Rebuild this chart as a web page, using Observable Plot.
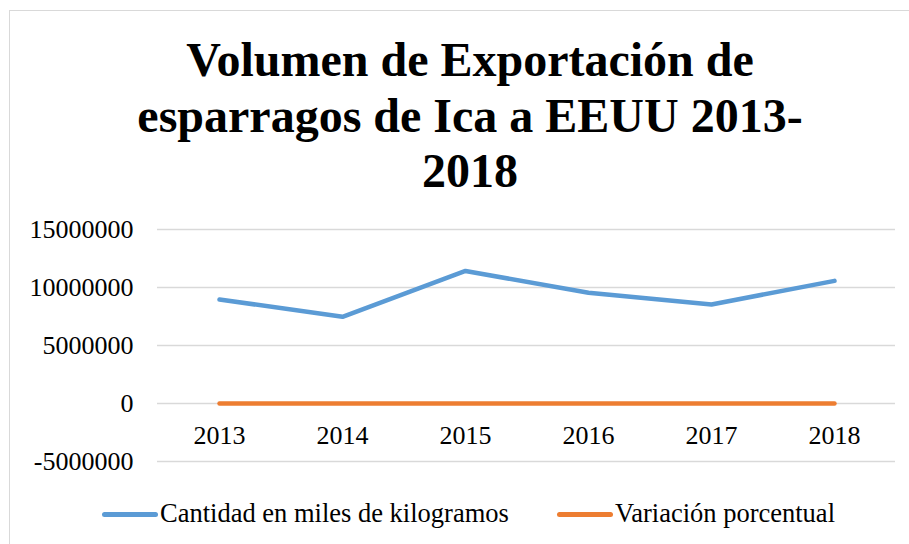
<!DOCTYPE html>
<html>
<head>
<meta charset="utf-8">
<script src="https://cdn.jsdelivr.net/npm/d3@7"></script>
<script src="https://cdn.jsdelivr.net/npm/@observablehq/plot@0.6"></script>
<style>
  html, body { margin: 0; padding: 0; background: #fff; }
  body { width: 909px; height: 544px; position: relative; overflow: hidden; font-family: "Liberation Serif", "Times New Roman", serif; }
  #frame { position: absolute; left: 9px; top: 10px; width: 1000px; height: 700px; border: 1px solid #d9d9d9; box-sizing: border-box; }
  #title { position: absolute; left: 0; top: 32px; width: 940px; text-align: center; font-weight: bold; font-size: 48px; line-height: 55.5px; color: #000; }
  #chart { position: absolute; left: 0; top: 205px; }
  .leg { position: absolute; top: 498px; font-size: 26.5px; line-height: 30px; color: #000; white-space: nowrap; }
  .sw { position: absolute; top: 512px; height: 4.5px; border-radius: 3px; }
</style>
</head>
<body>
<div id="frame"></div>
<div id="title">Volumen de Exportación de<br>esparragos de Ica a EEUU 2013-<br>2018</div>
<div id="chart"></div>
<div class="sw" style="left:102px;width:56px;background:#5b9bd5"></div>
<div class="leg" style="left:160px">Cantidad en miles de kilogramos</div>
<div class="sw" style="left:557px;width:56px;background:#ed7d31"></div>
<div class="leg" style="left:615px">Variación porcentual</div>
<script>
const years = ["2013", "2014", "2015", "2016", "2017", "2018"];
const cantidad = [8970000, 7470000, 11430000, 9540000, 8540000, 10570000];
const variacion = [0, -0.17, 0.53, -0.17, -0.10, 0.24];
const yTicks = [-5000000, 0, 5000000, 10000000, 15000000];

const rowsCant = years.map((y, i) => ({year: y, value: cantidad[i]}));
const rowsVar = years.map((y, i) => ({year: y, value: variacion[i]}));

const plot = Plot.plot({
  width: 909,
  height: 280,
  marginTop: 24,
  marginBottom: 24,
  marginLeft: 157,
  marginRight: 14,
  style: { fontFamily: "'Liberation Serif', 'Times New Roman', serif", fontSize: "26px", color: "#000", background: "transparent", overflow: "visible" },
  x: { type: "point", domain: years, padding: 0.5, axis: null },
  y: { domain: [-5000000, 15000000], axis: null },
  marks: [
    Plot.gridY(yTicks, { stroke: "#d9d9d9", strokeOpacity: 1, strokeWidth: 1.5 }),
    Plot.axisY({ ticks: yTicks, tickSize: 0, tickPadding: 24, tickFormat: d => String(d), fontSize: 26, fill: "#000", label: null }),
    Plot.text(years, { x: d => d, y: () => 0, dy: 32, text: d => d, fontSize: 26, fill: "#000" }),
    Plot.line(rowsCant, { x: "year", y: "value", stroke: "#5b9bd5", strokeWidth: 4.5, strokeLinecap: "round", strokeLinejoin: "round" }),
    Plot.line(rowsVar, { x: "year", y: "value", stroke: "#ed7d31", strokeWidth: 4.5, strokeLinecap: "round", strokeLinejoin: "round" })
  ]
});
document.getElementById("chart").appendChild(plot);
</script>
</body>
</html>
